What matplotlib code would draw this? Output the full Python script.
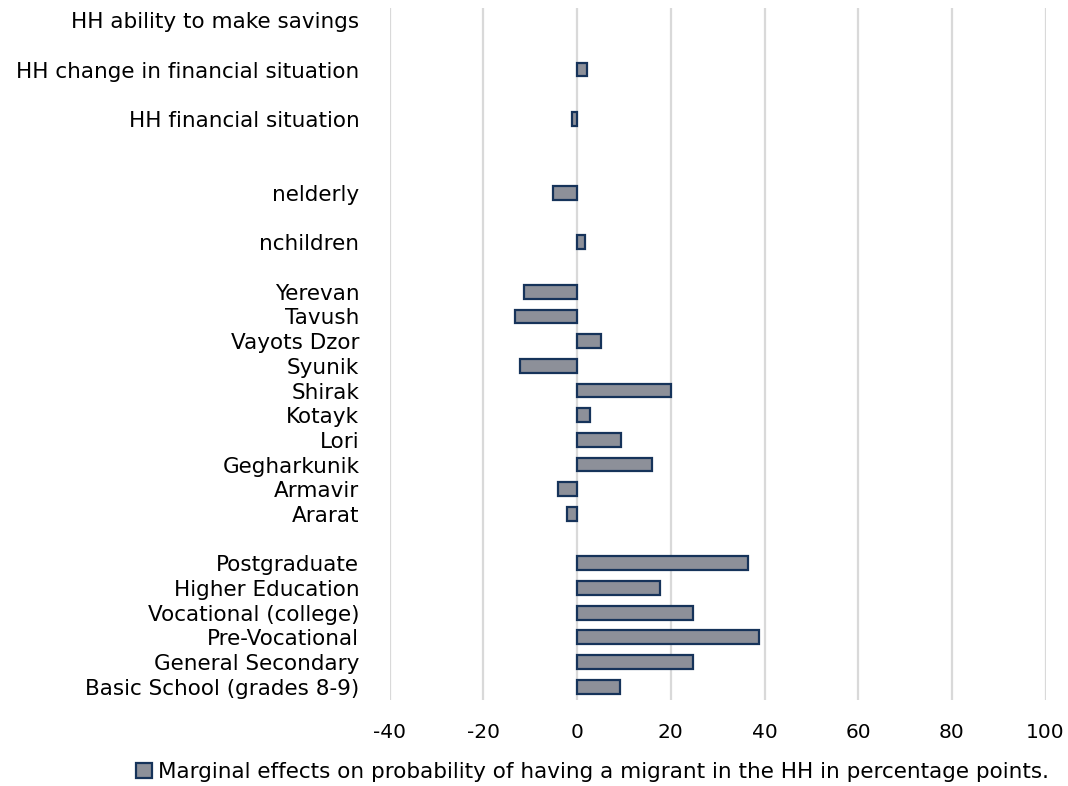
import numpy as np
import matplotlib.pyplot as plt

plt.rcParams['font.family'] = ['DejaVu Sans']
plt.rcParams['axes.unicode_minus'] = False

# categories from bottom to top, '' = blank spacer row
categories = ['Basic School (grades 8-9)', 'General Secondary', 'Pre-Vocational',
              'Vocational (college)', 'Higher Education', 'Postgraduate', '',
              'Ararat', 'Armavir', 'Gegharkunik', 'Lori', 'Kotayk', 'Shirak',
              'Syunik', 'Vayots Dzor', 'Tavush', 'Yerevan', '',
              'nchildren', '', 'nelderly', '', '',
              'HH financial situation', '', 'HH change in financial situation', '',
              'HH ability to make savings']
values = [9.1, 24.8, 38.8, 24.8, 17.6, 36.5, np.nan,
          -2.1, -4.2, 15.9, 9.4, 2.7, 20.0,
          -12.3, 5.0, -13.2, -11.3, np.nan,
          1.6, np.nan, -5.2, np.nan, np.nan,
          -1.1, np.nan, 2.0, np.nan,
          0.0]
series_label = 'Marginal effects on probability of having a migrant in the HH in percentage points.'
xticks = [-40, -20, 0, 20, 40, 60, 80, 100]

fig = plt.figure(figsize=(10.68, 7.86), dpi=100)
ax = fig.add_axes([0.365, 0.109, 0.614, 0.881])

y = np.arange(len(categories))
vals = np.array(values, dtype=float)
mask = np.nan_to_num(vals) != 0
ax.barh(y[mask], vals[mask], height=0.56, color='#8d9099',
        edgecolor='#16335a', linewidth=1.6, label=series_label, zorder=3)

ax.set_ylim(-0.55, len(categories) - 0.5)
ax.set_xlim(-40, 100)
ax.set_xticks(xticks)
ax.set_yticks(y)
ax.set_yticklabels(categories)
ax.xaxis.grid(True, color='#d9d9d9', linewidth=1.6, zorder=0)
ax.set_axisbelow(True)
for s in ax.spines.values():
    s.set_visible(False)
ax.tick_params(axis='y', length=0, pad=22, labelsize=15.5)
ax.tick_params(axis='x', length=0, pad=16, labelsize=14.5)

fig.legend(loc='center', bbox_to_anchor=(0.555, 0.018), frameon=False,
           fontsize=15.5, handlelength=0.7, handleheight=0.7, handletextpad=0.3)

fig.savefig('out.png', dpi=100)
